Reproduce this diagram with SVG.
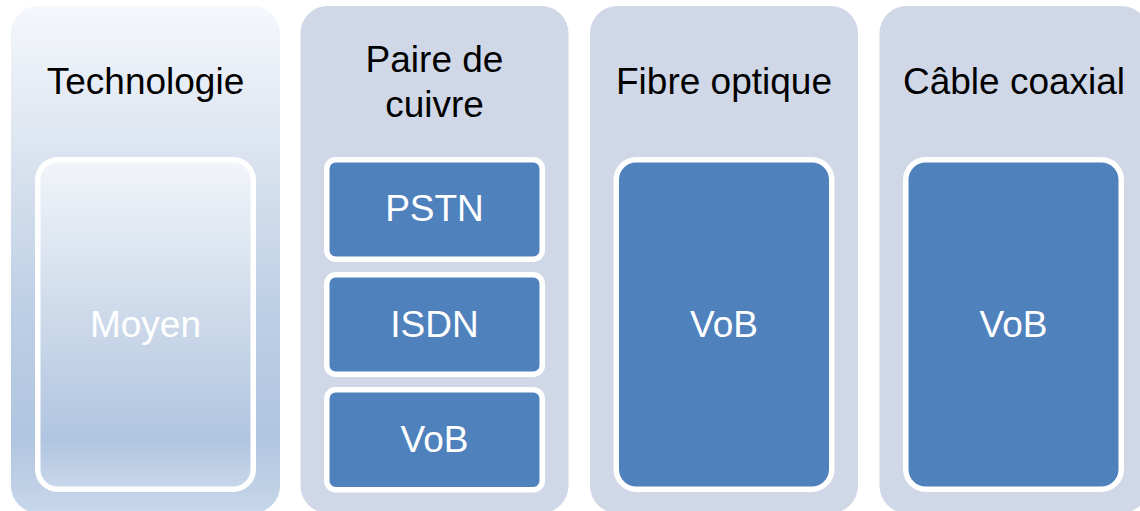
<svg xmlns="http://www.w3.org/2000/svg" width="1140" height="511" viewBox="0 0 1140 511">
<style>
.col{fill:#D0D8E8}
.box{fill:#4F81BD;stroke:#FFFFFF;stroke-width:5.5}
.title{font-family:"Liberation Sans",Arial,sans-serif;font-size:37px;fill:#000000;text-anchor:middle}
.lbl{font-family:"Liberation Sans",Arial,sans-serif;font-size:37px;fill:#FFFFFF;text-anchor:middle}
</style>
<defs>
<linearGradient id="g1" x1="0" y1="0" x2="0" y2="1">
<stop offset="0" stop-color="#F5F8FC"/>
<stop offset="0.3" stop-color="#DAE3EF"/>
<stop offset="0.6" stop-color="#BDCFE5"/>
<stop offset="0.85" stop-color="#B0C5E0"/>
<stop offset="1" stop-color="#C8D7EA"/>
</linearGradient>
<linearGradient id="g2" x1="0" y1="0" x2="0" y2="1">
<stop offset="0" stop-color="#F2F5FA"/>
<stop offset="0.4" stop-color="#D3DEEC"/>
<stop offset="0.85" stop-color="#B0C5E0"/>
<stop offset="1" stop-color="#C9D7EA"/>
</linearGradient>
</defs>
<g id="col-technologie">
<rect x="11" y="6" width="269" height="507" rx="27" fill="url(#g1)"/>
<text class="title" x="145.5" y="94">Technologie</text>
<g id="node-moyen">
<rect x="37.75" y="159.75" width="215.5" height="329.5" rx="20" fill="url(#g2)" stroke="#FFFFFF" stroke-width="5.5"/>
<text class="lbl" x="145.5" y="337">Moyen</text>
</g>
</g>
<g id="col-paire">
<rect class="col" x="300.5" y="6" width="268" height="507" rx="27"/>
<text class="title" x="434.5" y="72">Paire de</text>
<text class="title" x="434.5" y="117">cuivre</text>
<g id="node-pstn">
<rect class="box" x="326.75" y="159.75" width="215.5" height="99.5" rx="9"/>
<text class="lbl" x="434.5" y="221">PSTN</text>
</g>
<g id="node-isdn">
<rect class="box" x="326.75" y="274.75" width="215.5" height="99.5" rx="9"/>
<text class="lbl" x="434.5" y="337">ISDN</text>
</g>
<g id="node-vob1">
<rect class="box" x="326.75" y="389.75" width="215.5" height="100" rx="9"/>
<text class="lbl" x="434.5" y="452">VoB</text>
</g>
</g>
<g id="col-fibre">
<rect class="col" x="590" y="6" width="268" height="507" rx="27"/>
<text class="title" x="724" y="94">Fibre optique</text>
<g id="node-vob2">
<rect class="box" x="616.25" y="159.75" width="215.5" height="329.5" rx="20"/>
<text class="lbl" x="724" y="337">VoB</text>
</g>
</g>
<g id="col-coax">
<rect class="col" x="879.5" y="6" width="269" height="507" rx="27"/>
<text class="title" x="1014" y="94">Câble coaxial</text>
<g id="node-vob3">
<rect class="box" x="905.75" y="159.75" width="215.5" height="329.5" rx="20"/>
<text class="lbl" x="1013.5" y="337">VoB</text>
</g>
</g>
<g id="connectors"/>
</svg>
